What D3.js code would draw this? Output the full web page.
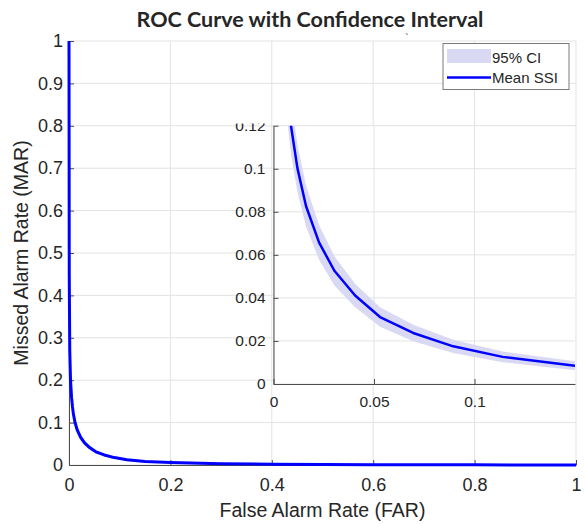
<!DOCTYPE html>
<html>
<head>
<meta charset="utf-8">
<script src="https://cdn.jsdelivr.net/npm/d3@7"></script>
<style>
  html, body { margin: 0; padding: 0; background: #fff; }
  svg { display: block; }
  text { font-family: "Liberation Sans", Arial, sans-serif; fill: #262626; }
</style>
</head>
<body>
<svg id="chart" width="587" height="524"></svg>
<script>
// False alarm rate (x) and missed alarm rate (y) of the mean SSI curve
const far = [0, 0.0005, 0.0015, 0.003, 0.005, 0.0069, 0.00877, 0.0119, 0.0162, 0.0227, 0.0303, 0.0406, 0.053, 0.0695, 0.0894, 0.114, 0.15, 0.2, 0.3, 0.4, 0.5, 0.6, 0.7, 0.8, 0.9, 1.0];
const marMean = [1, 0.45, 0.27, 0.2, 0.16, 0.137, 0.1195, 0.1003, 0.0826, 0.0657, 0.0526, 0.0411, 0.0311, 0.0237, 0.0175, 0.0126, 0.0085, 0.0058, 0.003, 0.0018, 0.0012, 0.0008, 0.0005, 0.0003, 0.0001, 0];
// 95% confidence bounds around the mean
const marLower = [1, 0.42, 0.245, 0.182, 0.143, 0.122, 0.1065, 0.0893, 0.0731, 0.0577, 0.0458, 0.0356, 0.0266, 0.0199, 0.0144, 0.0101, 0.0064, 0.0042, 0.002, 0.0011, 0.0007, 0.0004, 0.0002, 0.0001, 0, 0];
const marUpper = [1, 0.48, 0.295, 0.218, 0.177, 0.152, 0.1325, 0.1113, 0.0921, 0.0737, 0.0594, 0.0466, 0.0356, 0.0275, 0.0206, 0.0151, 0.0106, 0.0074, 0.0042, 0.0027, 0.0019, 0.0013, 0.0009, 0.0006, 0.0003, 0];

const mainXTicks = [0, 0.2, 0.4, 0.6, 0.8, 1];
const mainYTicks = [0, 0.1, 0.2, 0.3, 0.4, 0.5, 0.6, 0.7, 0.8, 0.9, 1];
const insetXTicks = [0, 0.05, 0.1];
const insetYTicks = [0, 0.02, 0.04, 0.06, 0.08, 0.1, 0.12];

const titleText = "ROC Curve with Confidence Interval";
const xLabelText = "False Alarm Rate (FAR)";
const yLabelText = "Missed Alarm Rate (MAR)";
const legendLabels = ["95% CI", "Mean SSI"];

const rows = far.map((f, i) => ({ x: f, y: marMean[i], lo: marLower[i], hi: marUpper[i] }));

const svg = d3.select("#chart");
const gridColor = "#e3e3e3";
const axisColor = "#4d4d4d";
const bandColor = "#d9d9f3";
const lineColor = "#0000ff";

function drawAxes(g, x, y, xTicks, yTicks, fmt, opts) {
  const [x0, x1] = x.range();
  const [y0, y1] = y.range();
  // grid
  g.append("g").selectAll("line").data(xTicks).join("line")
    .attr("x1", d => x(d)).attr("x2", d => x(d))
    .attr("y1", y0).attr("y2", y1)
    .attr("stroke", gridColor).attr("stroke-width", 1);
  g.append("g").selectAll("line").data(yTicks).join("line")
    .attr("x1", x0).attr("x2", x1)
    .attr("y1", d => y(d)).attr("y2", d => y(d))
    .attr("stroke", gridColor).attr("stroke-width", 1);
  // axes with inward ticks
  const ax = g.append("g").attr("transform", `translate(0,${y0})`)
    .call(d3.axisBottom(x).tickValues(xTicks).tickFormat(fmt).tickSizeInner(-5).tickSizeOuter(0).tickPadding(opts.padX));
  const ay = g.append("g").attr("transform", `translate(${x0},0)`)
    .call(d3.axisLeft(y).tickValues(yTicks).tickFormat(fmt).tickSizeInner(-5).tickSizeOuter(0).tickPadding(opts.padY));
  if (opts.clipY) ay.attr("clip-path", `url(#${opts.clipY})`);
  [ax, ay].forEach(a => {
    a.select(".domain").attr("stroke", axisColor).attr("stroke-width", 1);
    a.selectAll(".tick line").attr("stroke", axisColor);
    a.selectAll(".tick text").attr("fill", "#262626")
      .style("font-family", '"Liberation Sans", Arial, sans-serif').style("font-size", opts.size + "px");
  });
}

const fmt = d => (d === 0 ? "0" : String(+d.toFixed(3)));

// ---- main axes ----
const mx = d3.scaleLinear().domain([0, 1]).range([69, 576]);
const my = d3.scaleLinear().domain([0, 1]).range([465, 41]);
const mainG = svg.append("g");
drawAxes(mainG, mx, my, mainXTicks, mainYTicks, fmt, { size: 18, padX: 13, padY: 6 });

mainG.append("path").datum(rows)
  .attr("d", d3.area().x(d => mx(d.x)).y0(d => my(d.lo)).y1(d => my(d.hi)))
  .attr("fill", bandColor).attr("stroke", "none");
mainG.append("path").datum(rows)
  .attr("d", d3.line().x(d => mx(d.x)).y(d => my(d.y)))
  .attr("fill", "none").attr("stroke", lineColor).attr("stroke-width", 3)
  .attr("stroke-linejoin", "round");

// title and axis labels
svg.append("text").attr("x", 310).attr("y", 27).attr("text-anchor", "middle")
  .style("font-family", "Lato, 'Open Sans', sans-serif").style("font-weight", "bold")
  .style("font-size", "21.5px").attr("fill", "#000").text(titleText);
svg.append("text").attr("x", 407).attr("y", 42).attr("text-anchor", "middle")
  .style("font-size", "10px").attr("fill", "#000").text("`");
svg.append("text").attr("x", mx(0.5)).attr("y", 516.5).attr("text-anchor", "middle")
  .style("font-size", "19.5px").text(xLabelText);
svg.append("text").attr("transform", `translate(27.5,${my(0.5)}) rotate(-90)`).attr("text-anchor", "middle")
  .style("font-size", "19.5px").text(yLabelText);

// ---- inset axes ----
const ix = d3.scaleLinear().domain([0, 0.15]).range([273.5, 575]);
const iy = d3.scaleLinear().domain([0, 0.12]).range([384, 125.7]);
const defs = svg.append("defs");
defs.append("clipPath").attr("id", "insetClip").append("rect")
  .attr("x", 273.5).attr("y", 125.7).attr("width", 575 - 273.5).attr("height", 384 - 125.7);
// top tick label of the inset is partly hidden by the figure edge of the inset panel
defs.append("clipPath").attr("id", "insetYClip").append("rect")
  .attr("x", -60).attr("y", 123.5).attr("width", 70).attr("height", 300);

const insetG = svg.append("g");
insetG.append("rect").attr("x", 273.5).attr("y", 125.7).attr("width", 575 - 273.5).attr("height", 384 - 125.7).attr("fill", "#fff");
drawAxes(insetG, ix, iy, insetXTicks, insetYTicks, fmt, { size: 15.5, padX: 12, padY: 8, clipY: "insetYClip" });

const insetPlot = insetG.append("g").attr("clip-path", "url(#insetClip)");
insetPlot.append("path").datum(rows)
  .attr("d", d3.area().x(d => ix(d.x)).y0(d => iy(d.lo)).y1(d => iy(d.hi)))
  .attr("fill", bandColor).attr("stroke", "none");
insetPlot.append("path").datum(rows)
  .attr("d", d3.line().x(d => ix(d.x)).y(d => iy(d.y)))
  .attr("fill", "none").attr("stroke", lineColor).attr("stroke-width", 2.5)
  .attr("stroke-linejoin", "round");

// ---- legend ----
const lg = svg.append("g");
lg.append("rect").attr("x", 443).attr("y", 43.5).attr("width", 126).attr("height", 46)
  .attr("fill", "#fff").attr("stroke", "#7a7a7a").attr("stroke-width", 1);
lg.append("rect").attr("x", 447).attr("y", 49).attr("width", 44).attr("height", 14).attr("fill", bandColor);
lg.append("line").attr("x1", 447).attr("x2", 491).attr("y1", 77.5).attr("y2", 77.5)
  .attr("stroke", lineColor).attr("stroke-width", 2.5);
lg.selectAll("text.lab").data(legendLabels).join("text")
  .attr("x", 492).attr("y", (d, i) => 63.3 + i * 20)
  .style("font-size", "15px").attr("fill", "#000").text(d => d);
</script>
</body>
</html>
